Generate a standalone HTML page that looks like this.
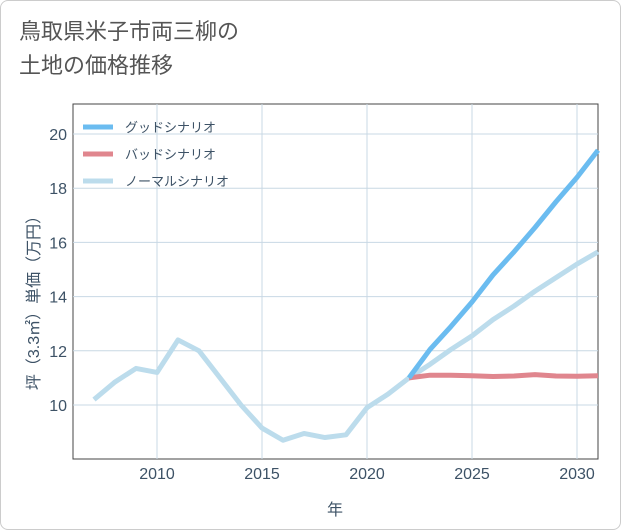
<!DOCTYPE html>
<html><head><meta charset="utf-8"><style>
body{margin:0;background:#fff;font-family:"Liberation Sans","Noto Sans CJK JP",sans-serif;}
#wrap{position:relative;width:619px;height:528px;border:1px solid #ccc;border-radius:8px;overflow:hidden;background:#fff}
#title{position:absolute;left:18px;top:14px;font-size:22px;line-height:34px;color:#555;}
svg{position:absolute;left:0;top:0}
text{font-family:"Liberation Sans","Noto Sans CJK JP",sans-serif;}
</style></head><body>
<div id="wrap">
<div id="title">鳥取県米子市両三柳の<br>土地の価格推移</div>
<svg id="chart" width="621" height="530"></svg>
</div>
<script>
const years=[2007,2008,2009,2010,2011,2012,2013,2014,2015,2016,2017,2018,2019,2020,2021,2022,2023,2024,2025,2026,2027,2028,2029,2030,2031];
const normalVals=[10.2,10.85,11.35,11.2,12.4,12.0,11.0,10.0,9.15,8.7,8.95,8.8,8.9,9.9,10.4,11.0,11.5,12.05,12.55,13.15,13.65,14.2,14.7,15.2,15.65];
const futureYears=[2022,2023,2024,2025,2026,2027,2028,2029,2030,2031];
const goodVals=[11.0,12.05,12.9,13.8,14.8,15.65,16.55,17.5,18.4,19.4];
const badVals=[11.0,11.1,11.1,11.08,11.05,11.07,11.12,11.07,11.06,11.08];
const xTicks=[2010,2015,2020,2025,2030];
const yTicks=[10,12,14,16,18,20];
const legendLabels=["グッドシナリオ","バッドシナリオ","ノーマルシナリオ"];
const colors=["#6bbcf0","#e0868e","#bcdcec"];

const L=72,R=597,T=103,B=458;
const X=y=>93+(y-2007)*21;
const Y=v=>404-(v-10)*27.1;
const svg=document.getElementById('chart');
const NS='http://www.w3.org/2000/svg';
function mk(tag,attrs){const e=document.createElementNS(NS,tag);for(const k in attrs)e.setAttribute(k,attrs[k]);svg.appendChild(e);return e;}
const bg=mk('rect',{x:L,y:T,width:R-L,height:B-T,fill:'#fff',stroke:'#444','stroke-width':1});


xTicks.forEach(t=>{
 const g=mk('line',{x1:X(t),x2:X(t),y1:T,y2:B,stroke:'#c8d8e4','stroke-width':1});
 
 
 const tx=mk('text',{x:X(t),y:B+20,'text-anchor':'middle','font-size':16,fill:'#3d5266'});
 tx.textContent=t;
 
 
});
yTicks.forEach(t=>{
 const g=mk('line',{x1:L,x2:R,y1:Y(t),y2:Y(t),stroke:'#c8d8e4','stroke-width':1});
 
 
 const tx=mk('text',{x:L-6,y:Y(t)+6,'text-anchor':'end','font-size':16,fill:'#3d5266'});
 tx.textContent=t;
 
 
});
function line(xs,vs,c,name){
 const p=mk('polyline',{points:xs.map((x,i)=>X(x)+','+Y(vs[i])).join(' '),fill:'none',stroke:c,'stroke-width':5,'stroke-linejoin':'round'});
 
 
}
line(years,normalVals,colors[2],'normal-scenario-line');
line(futureYears,badVals,colors[1],'bad-scenario-line');
line(futureYears,goodVals,colors[0],'good-scenario-line');
legendLabels.forEach((lab,i)=>{
 const y=126+i*27;
 const l=mk('line',{x1:82,x2:112,y1:y,y2:y,stroke:colors[i],'stroke-width':5});
 
 
 const t=mk('text',{x:124,y:y+5,'font-size':13,fill:'#3d5266'});
 t.textContent=lab;
 
 
});
const xt=mk('text',{x:334,y:514,'text-anchor':'middle','font-size':16,fill:'#3d5266'});
xt.textContent='年';


const yt=mk('text',{x:0,y:0,'text-anchor':'middle','font-size':16,fill:'#3d5266',transform:'translate(38,298) rotate(-90)'});
yt.textContent='坪（3.3㎡）単価（万円）';


</script>
</body></html>
